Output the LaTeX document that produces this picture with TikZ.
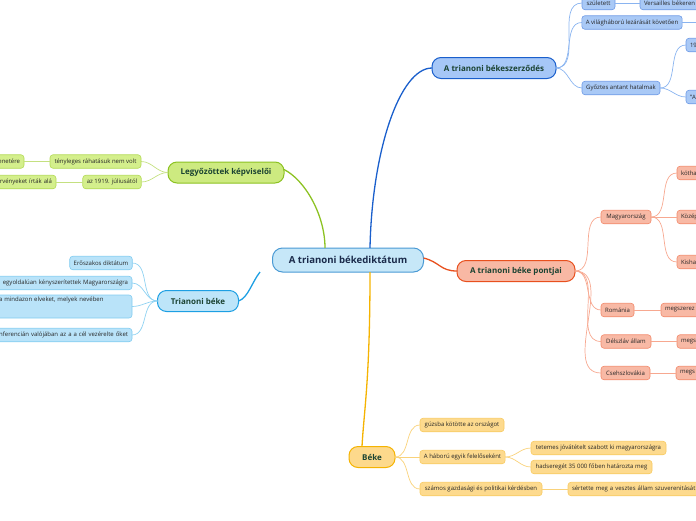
\documentclass[tikz,border=0pt]{standalone}
\usepackage{fontspec}
\setmainfont{Open Sans}
\definecolor{leaftext}{HTML}{262626}
\definecolor{maintext}{HTML}{1B4332}
\definecolor{centtext}{HTML}{1A2A4A}
\definecolor{centfill}{HTML}{C6E7F8}
\definecolor{centdraw}{HTML}{4A9AD4}
\definecolor{bmfill}{HTML}{A6C7F7}
\definecolor{bmdraw}{HTML}{1A5FCC}
\definecolor{blfill}{HTML}{A9C9F6}
\definecolor{bldraw}{HTML}{6F9BE6}
\definecolor{blconn}{HTML}{8AB4F0}
\definecolor{rmfill}{HTML}{F8B8A4}
\definecolor{rmdraw}{HTML}{E8501E}
\definecolor{rlfill}{HTML}{F8B9A5}
\definecolor{rldraw}{HTML}{F28A6C}
\definecolor{rlconn}{HTML}{F7A890}
\definecolor{ymfill}{HTML}{FDD98C}
\definecolor{ymdraw}{HTML}{F5B301}
\definecolor{ylfill}{HTML}{FDDA8E}
\definecolor{yldraw}{HTML}{F8CB62}
\definecolor{ylconn}{HTML}{F9D27A}
\definecolor{gmfill}{HTML}{CDEA80}
\definecolor{gmdraw}{HTML}{8CC222}
\definecolor{glfill}{HTML}{D4EF8C}
\definecolor{gldraw}{HTML}{B3DA55}
\definecolor{glconn}{HTML}{C4E080}
\definecolor{cmfill}{HTML}{BDE5F9}
\definecolor{cmdraw}{HTML}{1D9FE3}
\definecolor{clfill}{HTML}{B9E3F9}
\definecolor{cldraw}{HTML}{82CCF0}
\definecolor{clconn}{HTML}{8FD2F2}
\begin{document}
\begin{tikzpicture}[x=1pt,y=-1pt,
  every node/.style={inner sep=0pt, outer sep=0pt},
  leaf/.style={rounded corners=3pt, draw, line width=0.6pt, font=\fontsize{6}{7.5}\selectfont, text=leaftext, minimum height=13.5pt, inner xsep=4pt},
  mainbr/.style={rounded corners=9pt, draw, line width=1pt, font=\bfseries\fontsize{8}{9.5}\selectfont, text=maintext, minimum height=21pt},
  central/.style={rounded corners=10pt, draw=centdraw, fill=centfill, line width=1pt, font=\bfseries\fontsize{9.6}{11}\selectfont, text=centtext, minimum height=24pt, minimum width=151pt},
  bleaf/.style={leaf, fill=blfill, draw=bldraw},
  rleaf/.style={leaf, fill=rlfill, draw=rldraw},
  yleaf/.style={leaf, fill=ylfill, draw=yldraw},
  gleaf/.style={leaf, fill=glfill, draw=gldraw},
  cleaf/.style={leaf, fill=clfill, draw=cldraw},
  bconn/.style={draw=blconn, line width=0.7pt},
  rconn/.style={draw=rlconn, line width=0.7pt},
  yconn/.style={draw=ylconn, line width=0.7pt},
  gconn/.style={draw=glconn, line width=0.7pt},
  cconn/.style={draw=clconn, line width=0.7pt},
  mconn/.style={line width=1.3pt}
]
\useasboundingbox (0,0) rectangle (696,520);

% central
\node[central] (c) at (348,260) {A trianoni békediktátum};

% main branches
\node[mainbr, fill=bmfill, draw=bmdraw, minimum width=124pt] (bm) at (494,68) {A trianoni békeszerződés};
\node[mainbr, fill=rmfill, draw=rmdraw, minimum width=118pt] (rm) at (516,271) {A trianoni béke pontjai};
\node[mainbr, fill=ymfill, draw=ymdraw, minimum width=46pt] (ym) at (372,457) {Béke};
\node[mainbr, fill=gmfill, draw=gmdraw, minimum width=116pt] (gm) at (226,172.5) {Legyőzöttek képviselői};
\node[mainbr, fill=cmfill, draw=cmdraw, minimum width=81pt] (cm) at (198,301) {Trianoni béke};

% main connectors
\draw[mconn, draw=bmdraw] ([xshift=22pt]c.north) .. controls (372,150) and (400,68) .. (bm.west);
\draw[mconn, draw=rmdraw] ([yshift=2pt]c.east) .. controls (440,262) and (440,271) .. (rm.west);
\draw[mconn, draw=ymdraw] ([xshift=22pt]c.south) .. controls (370,380) and (364,410) .. ([xshift=-10pt]ym.north);
\draw[mconn, draw=gmdraw] ([xshift=-23pt]c.north) .. controls (325,215) and (305,180) .. ([yshift=3pt]gm.east);
\draw[mconn, draw=cmdraw] ([xshift=-88pt]c.south) .. controls (252,282) and (248,298) .. (cm.east);

% blue leaves
\node[bleaf, minimum width=33pt] (szul) at (598.5,3) {született};
\node[bleaf, anchor=west, text width=70pt, align=left] (vers) at (640,3) {Versailles békeren};
\node[bleaf, minimum width=100pt] (vil) at (632,22.5) {A világháború lezárását követően};
\coordinate (vilR) at (700,22.5);
\node[bleaf, minimum width=78pt] (gyoz) at (621,88) {Győztes antant hatalmak};
\node[bleaf, anchor=west, text width=30pt, align=left] (b19) at (686,45) {19};
\node[bleaf, anchor=west, text width=30pt, align=left] (bA) at (686,97) {"A};
\draw[bconn] (bm.east) to[out=0,in=180] (szul.west);
\draw[bconn] (bm.east) to[out=0,in=180] (vil.west);
\draw[bconn] (bm.east) to[out=0,in=180] (gyoz.west);
\draw[bconn] (szul.east) -- (vers.west);
\draw[bconn] (vil.east) -- (vilR);
\draw[bconn] (gyoz.east) to[out=0,in=180] (b19.west);
\draw[bconn] (gyoz.east) to[out=0,in=180] (bA.west);

% red leaves
\node[rleaf, minimum width=50pt] (magy) at (626,217) {Magyarország};
\node[rleaf, anchor=west, text width=30pt, align=left] (kotha) at (677,173) {kötha};
\node[rleaf, anchor=west, text width=30pt, align=left] (kozep) at (677,217) {Közép};
\node[rleaf, anchor=west, text width=30pt, align=left] (kisha) at (677,262) {Kisha};
\node[rleaf, minimum width=33pt] (rom) at (617.5,310) {Románia};
\node[rleaf, anchor=west, text width=50pt, align=left] (meg1) at (661,310) {megszerez};
\node[rleaf, minimum width=50pt] (del) at (626,341.5) {Délszláv állam};
\node[rleaf, anchor=west, text width=30pt, align=left] (meg2) at (677,341.5) {megs};
\node[rleaf, minimum width=49pt] (cseh) at (625.5,373) {Csehszlovákia};
\node[rleaf, anchor=west, text width=30pt, align=left] (meg3) at (676,373) {megs};
\draw[rconn] (rm.east) to[out=0,in=180] (magy.west);
\draw[rconn] (rm.east) to[out=0,in=180] (rom.west);
\draw[rconn] (rm.east) to[out=0,in=180] (del.west);
\draw[rconn] (rm.east) to[out=0,in=180] (cseh.west);
\draw[rconn] (magy.east) to[out=0,in=180] (kotha.west);
\draw[rconn] (magy.east) -- (kozep.west);
\draw[rconn] (magy.east) to[out=0,in=180] (kisha.west);
\draw[rconn] (rom.east) -- (meg1.west);
\draw[rconn] (del.east) -- (meg2.west);
\draw[rconn] (cseh.east) -- (meg3.west);

% yellow leaves
\node[yleaf, minimum width=84pt] (guzs) at (462,425) {gúzsba kötötte az országot};
\node[yleaf, minimum width=85pt] (hab) at (462.5,457) {A háború egyik felelőseként};
\node[yleaf, minimum width=135pt] (tet) at (598.5,448) {tetemes jóvátételt szabott ki magyarországra};
\node[yleaf, minimum width=121pt] (had) at (591.5,467) {hadseregét 35 000 főben határozta meg};
\node[yleaf, minimum width=122pt] (szam) at (481,489) {számos gazdasági és politikai kérdésben};
\node[yleaf, anchor=west, text width=140pt, align=left] (sert) at (568,489) {sértette meg a vesztes állam szuverenitását};
\draw[yconn] (ym.east) to[out=0,in=180] (guzs.west);
\draw[yconn] (ym.east) -- (hab.west);
\draw[yconn] (ym.east) to[out=0,in=180] (szam.west);
\draw[yconn] (hab.east) to[out=0,in=180] (tet.west);
\draw[yconn] (hab.east) to[out=0,in=180] (had.west);
\draw[yconn] (szam.east) -- (sert.west);

% green leaves
\node[gleaf, minimum width=91pt] (teny) at (95.5,161.5) {tényleges ráhatásuk nem volt};
\node[gleaf, anchor=east, text width=40pt, align=right] (ene) at (24,161.5) {enetére};
\node[gleaf, minimum width=58pt] (az) at (112,182) {az 1919. júliusától};
\node[gleaf, anchor=east, text width=70pt, align=right] (rveny) at (56,182) {rvényeket írták alá};
\draw[gconn] (gm.west) to[out=180,in=0] (teny.east);
\draw[gconn] (gm.west) to[out=180,in=0] (az.east);
\draw[gconn] (teny.west) -- (ene.east);
\draw[gconn] (az.west) -- (rveny.east);

% cyan leaves
\node[cleaf, minimum width=62pt] (erosz) at (101,263) {Erőszakos diktátum};
\node[cleaf, anchor=east, text width=150pt, align=right] (egyold) at (132,283) {egyoldalúan kényszerítettek Magyarországra};
\node[cleaf, anchor=north east, text width=129pt, align=left, minimum height=23pt] (mind) at (132,295) {a mindazon elveket, melyek nevében\\[7pt]\mbox{}};
\node[cleaf, anchor=east, text width=160pt, align=right] (konf) at (132,335) {onferencián valójában az a a cél vezérelte őket};
\draw[cconn] (cm.west) to[out=180,in=0] (erosz.east);
\draw[cconn] (cm.west) to[out=180,in=0] (egyold.east);
\draw[cconn] (cm.west) to[out=180,in=0] (mind.east);
\draw[cconn] (cm.west) to[out=180,in=0] (konf.east);
\end{tikzpicture}
\end{document}
